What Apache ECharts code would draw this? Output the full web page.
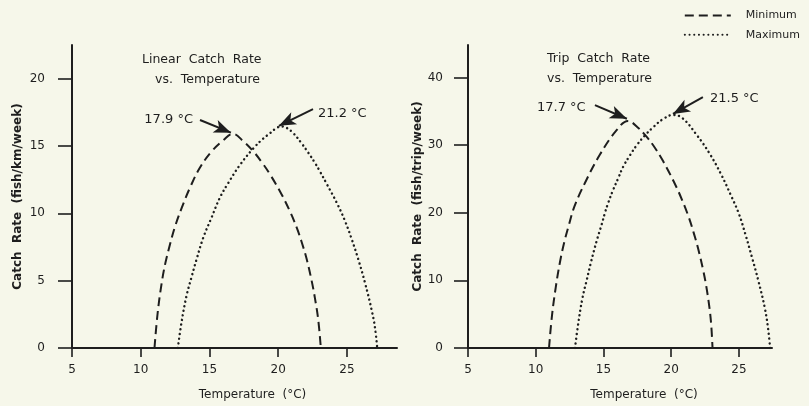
<!DOCTYPE html>
<html>
<head>
<meta charset="utf-8">
<script src="https://cdn.jsdelivr.net/npm/echarts@6/dist/echarts.min.js"></script>
<style>
html,body{margin:0;padding:0;background:#f6f7ea;}
#chart{width:809px;height:406px;}
</style>
</head>
<body>
<div id="chart"></div>
<script>
// ---- Data ----
const xTicks = [5, 10, 15, 20, 25];
const leftYTicks = [0, 5, 10, 15, 20];
const rightYTicks = [0, 10, 20, 30, 40];

// Linear catch rate (fish/km/week) vs temperature
const linMinT = [11.0, 11.23, 11.52, 11.79, 12.13, 12.49, 12.98, 13.58, 14.31, 15.16, 15.98, 16.71, 17.46, 18.19, 18.8, 19.4, 20.25, 20.85, 21.34, 21.71, 22.07, 22.43, 22.67, 22.91, 23.1];
const linMinV = [0, 2.6, 4.8, 6.3, 7.7, 9.0, 10.4, 11.9, 13.4, 14.6, 15.4, 15.9, 15.35, 14.6, 13.8, 12.9, 11.4, 10.15, 8.95, 7.85, 6.6, 5.0, 3.7, 2.1, 0];
const linMaxT = [12.7, 12.97, 13.34, 13.7, 14.07, 14.55, 15.16, 15.76, 16.37, 17.22, 18.19, 18.91, 19.4, 19.9, 20.3, 20.61, 21.1, 21.7, 22.19, 22.67, 23.04, 23.52, 24.25, 24.85, 25.34, 25.82, 26.31, 26.8, 27.04, 27.2];
const linMaxV = [0, 1.92, 3.92, 5.28, 6.62, 8.2, 9.71, 11.17, 12.26, 13.6, 14.82, 15.55, 15.95, 16.35, 16.45, 16.35, 15.95, 15.2, 14.5, 13.75, 13.1, 12.2, 10.8, 9.45, 8.1, 6.6, 4.85, 2.8, 1.5, 0];

// Trip catch rate (fish/trip/week) vs temperature
const tripMinT = [10.98, 11.2, 11.48, 11.78, 12.1, 12.45, 12.85, 13.63, 14.74, 15.97, 16.81, 17.53, 18.24, 18.83, 19.41, 20.24, 20.82, 21.3, 21.65, 22.0, 22.36, 22.59, 22.82, 22.95, 23.05];
const tripMinV = [0, 4.8, 9.0, 12.6, 15.6, 18.2, 20.9, 24.4, 28.6, 32.2, 33.58, 32.6, 31.1, 29.5, 27.6, 24.4, 21.8, 19.3, 17.1, 14.6, 11.5, 9.1, 6.0, 3.5, 0];
const tripMaxT = [12.9, 13.12, 13.44, 13.76, 14.08, 14.5, 14.87, 15.11, 15.35, 15.72, 16.09, 16.46, 16.96, 17.45, 18.06, 18.68, 19.41, 20.13, 20.82, 21.9, 22.85, 23.69, 24.4, 25.0, 25.48, 25.95, 26.43, 26.91, 27.15, 27.3];
const tripMaxV = [0, 3.36, 7.3, 10.01, 12.7, 15.85, 18.29, 20.0, 21.46, 23.4, 25.11, 26.82, 28.51, 29.97, 31.43, 32.66, 33.87, 34.45, 34.0, 31.46, 28.69, 25.65, 22.6, 19.82, 16.79, 13.5, 9.96, 5.91, 2.88, 0];

// Optimum temperature annotations
const linMinLabel = '17.9 °C', linMaxLabel = '21.2 °C';
const tripMinLabel = '17.7 °C', tripMaxLabel = '21.5 °C';

// ---- Build ----
const pair = (t, v) => t.map((x, i) => [x, v[i]]);
const ink = '#1e1e1e';
const font = '"DejaVu Sans", sans-serif';

const dashStyle = { color: ink, width: 2, type: [9, 5] };
const dotStyle = { color: ink, width: 2.4, type: [0.1, 4.6], cap: 'round' };

function arrow(from, to) {
  return {
    silent: true,
    symbol: ['none', 'arrow'],
    symbolSize: [10, 17],
    lineStyle: { color: ink, width: 2, type: 'solid' },
    label: { show: false },
    animation: false,
    data: [[{ coord: from }, { coord: to }]]
  };
}

function xAxis(gridIndex, max, padLeft) {
  return {
    type: 'value', gridIndex, min: 5, max,
    name: 'Temperature  (°C)', nameLocation: 'middle', nameGap: 41,
    nameTextStyle: { color: ink, fontSize: 12, fontFamily: font, padding: [0, 0, 0, padLeft] },
    axisLine: { show: true, onZero: false, lineStyle: { color: ink, width: 2 } },
    axisTick: { show: true, length: 9, customValues: xTicks, lineStyle: { color: ink, width: 1.6 } },
    axisLabel: { customValues: xTicks, color: ink, fontSize: 12, fontFamily: font, margin: 16 },
    splitLine: { show: false }
  };
}
function yAxis(gridIndex, max, ticks, name, gap, margin) {
  return {
    type: 'value', gridIndex, min: 0, max,
    name, nameLocation: 'middle', nameGap: gap,
    nameTextStyle: { color: ink, fontSize: 12, fontFamily: font, fontWeight: 'bold' },
    axisLine: { show: true, lineStyle: { color: ink, width: 2 } },
    axisTick: { show: true, length: 14, customValues: ticks, lineStyle: { color: ink, width: 1.6 } },
    axisLabel: { customValues: ticks, color: ink, fontSize: 12, fontFamily: font, margin },
    splitLine: { show: false }
  };
}

function txt(x, y, text, align, size) {
  return { type: 'text', x, y, silent: true,
    style: { text, fill: ink, font: (size || 12) + 'px ' + font, align: align || 'left', verticalAlign: 'middle' } };
}

function line(name, xi, data, style, mark) {
  return { name, type: 'line', xAxisIndex: xi, yAxisIndex: xi, data,
    showSymbol: false, symbol: 'none', smooth: 0.4, lineStyle: style,
    itemStyle: { color: ink }, markLine: mark };
}

const option = {
  backgroundColor: '#f6f7ea',
  animation: false,
  legend: {
    orient: 'vertical', right: 4, top: 5, itemGap: 8,
    itemWidth: 46, itemHeight: 14,
    itemStyle: { opacity: 0 },
    textStyle: { color: ink, fontSize: 11, fontFamily: font, padding: [0, 0, 0, 10] },
    data: ['Minimum', 'Maximum']
  },
  grid: [
    { left: 72, right: 412, top: 45, bottom: 53 },
    { left: 468, right: 37, top: 45, bottom: 54 }
  ],
  xAxis: [xAxis(0, 28.64, 36), xAxis(1, 27.44, 48)],
  yAxis: [
    yAxis(0, 22.5, leftYTicks, 'Catch  Rate  (fish/km/week)', 48, 27),
    yAxis(1, 44.8, rightYTicks, 'Catch  Rate  (fish/trip/week)', 39, 25)
  ],
  series: [
    line('Minimum', 0, pair(linMinT, linMinV), dashStyle, arrow([14.31, 16.93], [16.56, 15.99])),
    line('Maximum', 0, pair(linMaxT, linMaxV), dotStyle, arrow([22.53, 17.74], [20.05, 16.5])),
    line('Minimum', 1, pair(tripMinT, tripMinV), dashStyle, arrow([14.37, 35.9], [16.73, 33.9])),
    line('Maximum', 1, pair(tripMaxT, tripMaxV), dotStyle, arrow([22.34, 37.08], [20.13, 34.6]))
  ],
  graphic: [
    txt(142, 60, 'Linear  Catch  Rate', 'left', 12.5),
    txt(155, 80, 'vs.  Temperature', 'left', 12.5),
    txt(547, 59, 'Trip  Catch  Rate', 'left', 12.5),
    txt(547, 79, 'vs.  Temperature', 'left', 12.5),
    txt(193, 120, linMinLabel, 'right', 13),
    txt(318, 114, linMaxLabel, 'left', 13),
    txt(537, 108, tripMinLabel, 'left', 13),
    txt(710, 99, tripMaxLabel, 'left', 13)
  ]
};

const chart = echarts.init(document.getElementById('chart'), null, { renderer: 'canvas' });
chart.setOption(option);
</script>
</body>
</html>
